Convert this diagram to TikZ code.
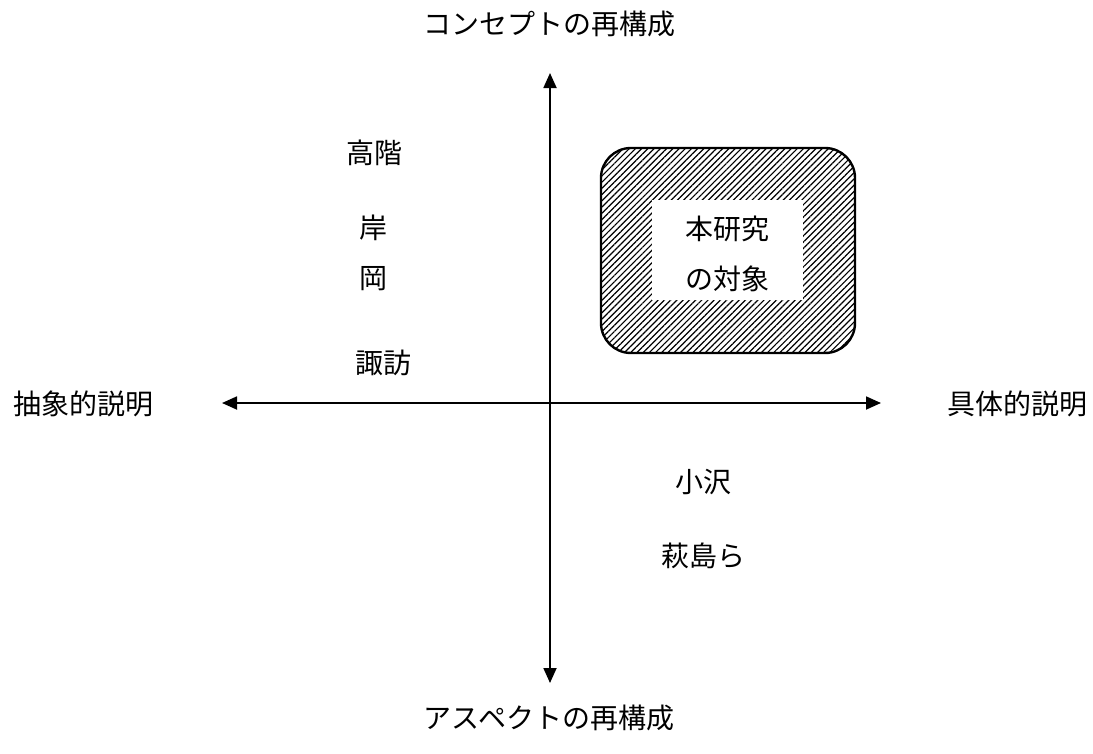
\documentclass[tikz,border=0pt]{standalone}
\usepackage{fontspec}
\newfontfamily\cjk{Noto Sans CJK JP}
\usetikzlibrary{arrows.meta,patterns.meta}
\tikzset{
  lbl/.style={font=\cjk\fontsize{28}{32}\selectfont, inner sep=0pt, text=black},
  axis/.style={line width=1.8pt, {Triangle[length=15pt,width=13pt]}-{Triangle[length=15pt,width=13pt]}},
  hatchbox/.style={line width=2.4pt, rounded corners=30pt, pattern={Lines[angle=45,distance=4.4pt,line width=1.2pt]}},
}
\begin{document}
\begin{tikzpicture}[x=1pt,y=1pt]
\useasboundingbox[fill=white] (0,0) rectangle (1093,-753);
% axes
\coordinate (top) at (550,-73);
\coordinate (bot) at (550,-683);
\coordinate (lft) at (222,-403);
\coordinate (rgt) at (881,-403);
\draw[axis] (bot) -- (top);
\draw[axis] (lft) -- (rgt);
% axis labels
\node[lbl] (tlab) at (549,-24) {コンセプトの再構成};
\node[lbl] (blab) at (549,-718) {アスペクトの再構成};
\node[lbl] (llab) at (83,-404) {抽象的説明};
\node[lbl] (rlab) at (1017,-404) {具体的説明};
% hatched box
\draw[hatchbox] (601,-148) rectangle (855,-353);
\fill[white] (652,-200) rectangle (803,-300);
\node[lbl] (obj1) at (727,-229) {本研究};
\node[lbl] (obj2) at (727,-279) {の対象};
% names
\node[lbl] (n1) at (374,-153) {高階};
\node[lbl] (n2) at (373,-228) {岸};
\node[lbl] (n3) at (373,-279) {岡};
\node[lbl] (n4) at (383,-363) {諏訪};
\node[lbl] (n5) at (703,-482) {小沢};
\node[lbl] (n6) at (703,-556) {萩島ら};
\end{tikzpicture}
\end{document}
